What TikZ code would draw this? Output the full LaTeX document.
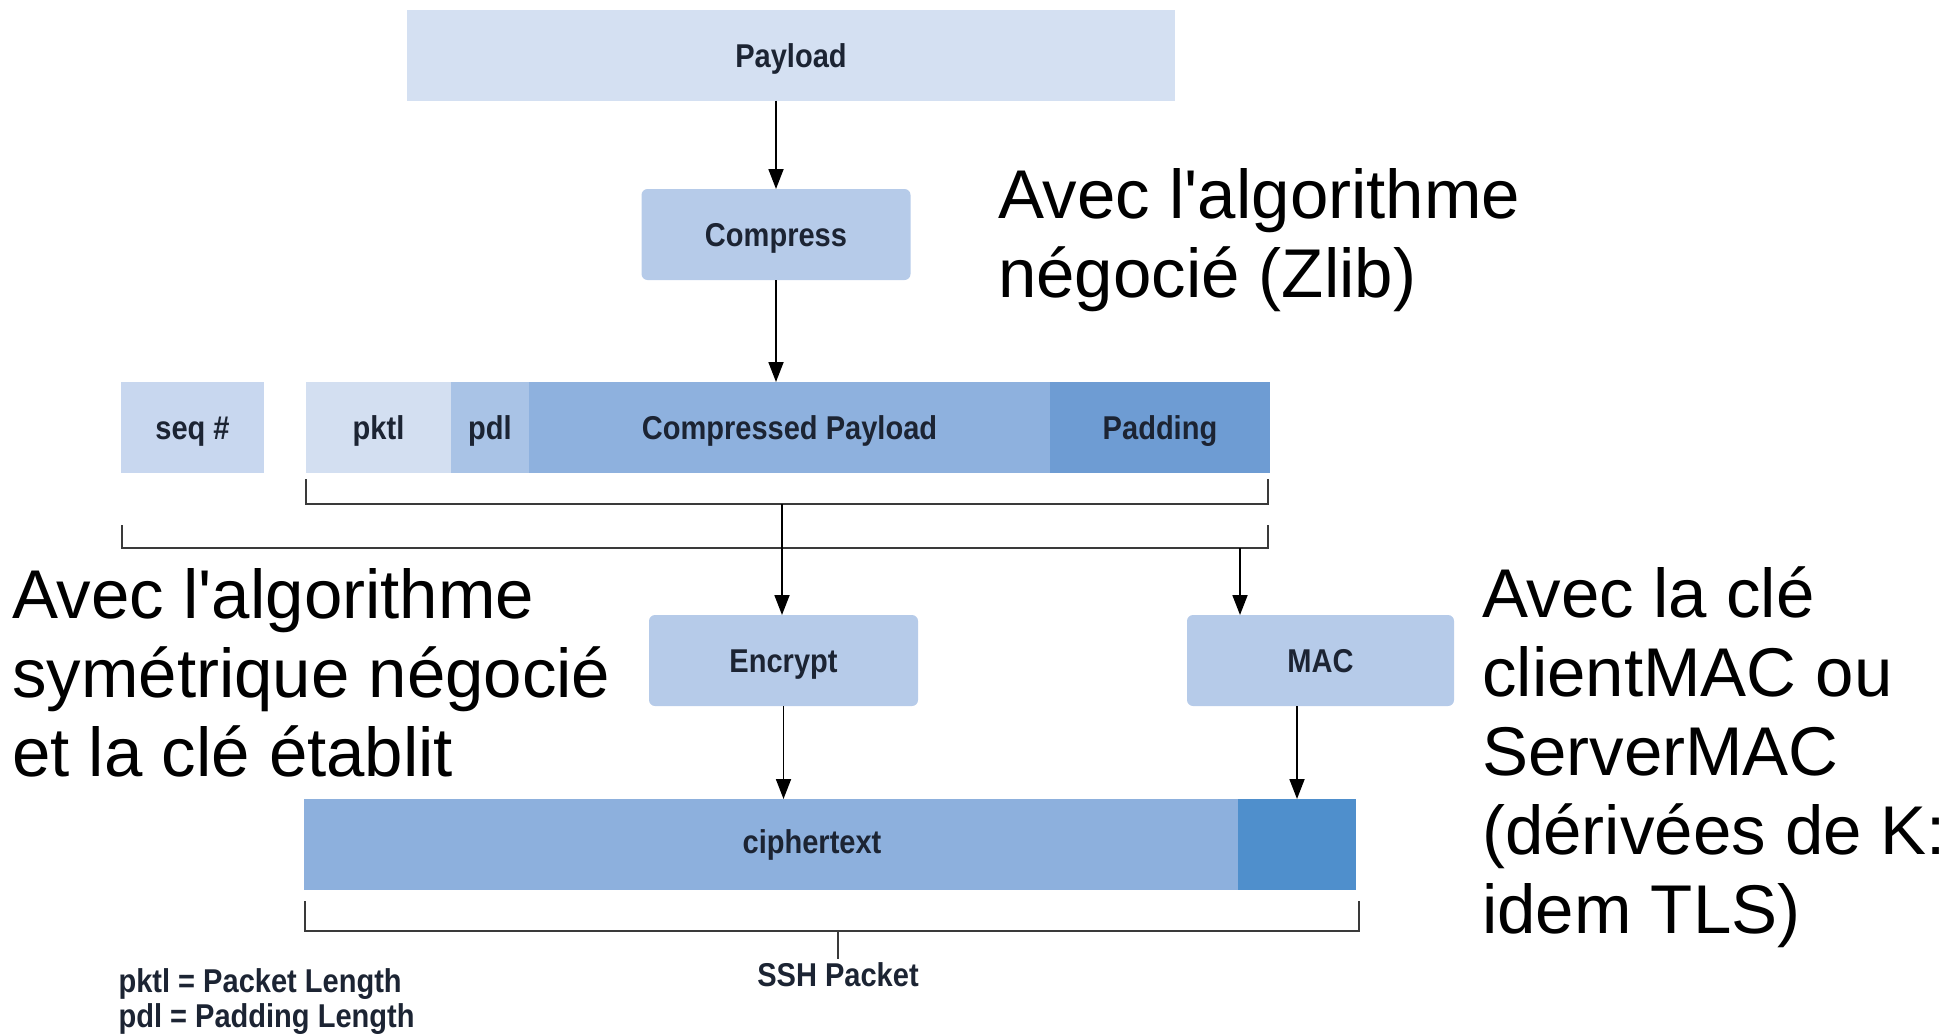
\documentclass[tikz,border=0pt]{standalone}
\usepackage{fontspec}
\setmainfont{Liberation Sans}
\newfontfamily\condfont[FakeStretch=0.88]{Liberation Sans}
\usepackage{xcolor}
\usetikzlibrary{positioning, arrows.meta}

\definecolor{paylblue}{HTML}{D4E0F2}
\definecolor{boxblue}{HTML}{B6CBE9}
\definecolor{seqblue}{HTML}{C8D7EF}
\definecolor{pktlblue}{HTML}{D3DFF1}
\definecolor{pdlblue}{HTML}{A9C3E6}
\definecolor{cpayblue}{HTML}{8EB1DE}
\definecolor{padblue}{HTML}{6E9CD3}
\definecolor{ctblue}{HTML}{8DB0DD}
\definecolor{macblue}{HTML}{4F8FCC}
\definecolor{labelink}{HTML}{1C2433}
\definecolor{bracketgray}{HTML}{3A3A3A}

\begin{document}
\begin{tikzpicture}[
    x=1pt, y=-1pt,
    node distance=0pt,
    labelfont/.style={font=\condfont\bfseries\fontsize{33}{35}\selectfont, text=labelink},
    field/.style={rectangle, minimum height=91pt, inner sep=0pt, outer sep=0pt, text height=30pt, text depth=6pt, labelfont},
    box/.style={field, fill=boxblue, rounded corners=6pt, minimum width=269pt},
    note/.style={align=left, font=\fontsize{69}{79}\selectfont, inner sep=0pt, anchor=base west},
    arrow/.style={-{Triangle[length=20pt, width=15pt]}, line width=1.8pt},
    bracket/.style={line width=1.8pt, draw=bracketgray},
]
\useasboundingbox (0,0) rectangle (1952,1036);

\node[field, fill=paylblue, minimum width=768pt] (payload) at (791,55) {Payload};
\node[box] (compress) at (776,234.5) {Compress};

% packet before encryption
\node[field, fill=seqblue, minimum width=143pt] (seq) at (192.5,427.5) {seq \#};
\node[field, fill=pktlblue, minimum width=145pt] (pktl) at (378.5,427.5) {pktl};
\node[field, fill=pdlblue, minimum width=78pt, right=of pktl] (pdl) {pdl};
\node[field, fill=cpayblue, minimum width=521pt, right=of pdl] (cpay) {Compressed Payload};
\node[field, fill=padblue, minimum width=220pt, right=of cpay] (padding) {Padding};

\node[box] (encrypt) at (783.5,660.5) {Encrypt};
\node[box, minimum width=267pt] (mac) at (1320.5,660.5) {MAC};

% packet on the wire
\node[field, fill=ctblue, minimum width=934pt] (ctext) at (771,844.5) {};
\node[field, fill=macblue, minimum width=118pt, right=of ctext] (ctmac) {};
\node[labelfont] (ctlabel) at (812,844.5) {ciphertext};

\coordinate (b1l) at (306,479);
\coordinate (b1r) at (1268,479);
\coordinate (b1mid) at (782,504);
\coordinate (b2l) at (122,525);
\coordinate (b2r) at (1268,525);
\coordinate (b2tap) at (1240,548);
\coordinate (b3l) at (305,901);
\coordinate (b3r) at (1359,901);
\coordinate (b3mid) at (838,931);

\draw[bracket] (b1l) -- ++(0,25) -| (b1r);
\draw[bracket] (b2l) -- ++(0,23) -| (b2r);
\draw[bracket] (b3l) -- ++(0,30) -| (b3r);
\draw[bracket] (b3mid) -- ++(0,28) coordinate (b3tick);

\node[labelfont, anchor=base] (ssh) at (838,986) {SSH Packet};
\node[labelfont, align=left, anchor=base west] (legend) at (115,1027) {pktl = Packet Length\\pdl = Padding Length};

\draw[arrow] (payload.south -| compress.north) -- (compress.north);
\draw[arrow] (compress.south) -- (compress.south |- cpay.north);
\draw[arrow] (b1mid) -- (b1mid |- encrypt.north);
\draw[arrow] (b2tap) -- (b2tap |- mac.north);
\draw[arrow] (encrypt.south) -- (encrypt.south |- ctext.north);
\draw[arrow] (mac.south -| ctmac.north) -- (ctmac.north);

% comments in plain French, as on the slide
\node[note] (zlibnote) at (998,297) {Avec l\textquotesingle algorithme\\négocié (Zlib)};
\node[note] (ciphernote) at (12,776) {Avec l\textquotesingle algorithme\\symétrique négocié\\et la clé établit};
\node[note] (macnote) at (1482,933) {Avec la clé\\clientMAC ou\\ServerMAC\\(dérivées de K:\\idem TLS)};

\end{tikzpicture}
\end{document}
